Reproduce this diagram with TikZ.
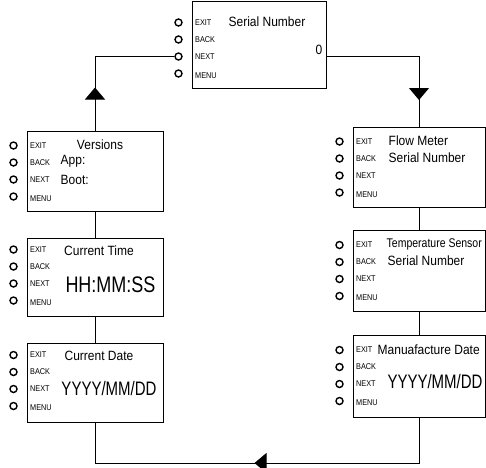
\documentclass[tikz,border=0pt]{standalone}
\usepackage{fontspec}
\setmainfont{Liberation Sans}
\usetikzlibrary{arrows.meta, positioning, calc, decorations.markings}
\tikzset{
    screen/.style={draw=black, line width=1pt, minimum width=136pt, minimum height=80pt, inner sep=0pt},
    key/.style={circle, draw=black, line width=1.4pt, minimum size=7pt, inner sep=0pt},
    keylbl/.style={anchor=west, inner sep=0pt, font=\fontsize{7.3}{8}\selectfont},
    title/.style={inner sep=0pt, font=\fontsize{12}{14}\selectfont},
    reading/.style={inner sep=0pt, font=\fontsize{15}{18}\selectfont},
    link/.style={line width=1pt},
    tipat/.style={link, postaction={decorate}, decoration={markings, mark=at position #1 with {\arrow{Triangle[width=20pt, length=12pt]}}}}
}
% taller letters, as on the display
\newcommand{\tallt}[2][1.12]{\scalebox{1}[#1]{#2}}
% four buttons with their labels, left of a screen
\newcommand{\keypad}[2]{%
  \foreach \k [count=\i from 0] in {EXIT,BACK,NEXT,MENU} {
    \node[key] (#1-\i) at ($(#1.north west)+(-13,{#2+17*\i})$) {};
    \node[keylbl] at ($(#1.north west)+(3.5,{#2+17*\i+2*(\i==3)})$) {\tallt[1.15]{\k}};
  }}

\begin{document}
\begin{tikzpicture}[x=1pt, y=-1pt]
\useasboundingbox (0,0) rectangle (486,467);
\clip (0,0) rectangle (486,467);

% Screens
\node[screen, minimum width=134pt, minimum height=87pt] (sn) at (259,44.5) {};
\node[screen] (ver) at (95,171) {};
\node[screen, minimum height=78pt] (ct) at (95,277) {};
\node[screen, minimum height=79pt] (cd) at (95,382.5) {};
\node[screen, minimum width=132pt] (fm) at (419,167) {};
\node[screen, minimum width=132pt, minimum height=81pt] (ts) at (419,270.5) {};
\node[screen, minimum width=132pt, minimum height=82pt] (md) at (419,376) {};

% Buttons
\keypad{sn}{22}
\keypad{ver}{15}
\keypad{ct}{12}
\keypad{cd}{12.5}
\keypad{fm}{15}
\keypad{ts}{15.5}
\keypad{md}{15.5}

% Screen texts
\node[title] at ($(sn.north)+(8,21)$) {\tallt{Serial Number}};
\node[title, anchor=east] at ($(sn.east)+(-4,5.5)$) {\tallt{0}};
\node[title] at ($(ver.north)+(5,14)$) {\tallt{Versions}};
\node[title, anchor=west] at ($(ver.north west)+(34,31)$) {\tallt{App:}};
\node[title, anchor=west] at ($(ver.north west)+(34,49)$) {\tallt{Boot:}};
\node[title] at ($(ct.north)+(4,13)$) {\tallt{Current Time}};
\node[reading, font=\fontsize{18}{21}\selectfont] at ($(ct.north)+(15.5,47)$) {\tallt[1.25]{HH:MM:SS}};
\node[title] at ($(cd.north)+(4,13.5)$) {\tallt{Current Date}};
\node[reading] at ($(cd.north)+(14,46.5)$) {\tallt[1.3]{YYYY/MM/DD}};
\node[title, anchor=west] at ($(fm.north west)+(36,14)$) {\tallt{Flow Meter}};
\node[title, anchor=west] at ($(fm.north west)+(36,31)$) {\tallt{Serial Number}};
\node[title, anchor=west, font=\fontsize{10.5}{12}\selectfont] at ($(ts.north west)+(34,14.5)$) {\tallt[1.2]{Temperature Sensor}};
\node[title, anchor=west] at ($(ts.north west)+(35,31.5)$) {\tallt{Serial Number}};
\node[title, anchor=west] at ($(md.north west)+(25,15)$) {\tallt{Manuafacture Date}};
\node[reading] at ($(md.north)+(16,47)$) {\tallt[1.3]{YYYY/MM/DD}};

% Lines between screens
\coordinate (bot) at (0,463);
\draw[link] (ver.south) -- (ct.north);
\draw[link] (ct.south) -- (cd.north);
\draw[link] (fm.south) -- (ts.north);
\draw[link] (ts.south) -- (md.north);
\draw[tipat=43pt] (ver.north) |- (sn-2.west);
\draw[tipat=136pt] (sn.east |- sn-2) -| (fm.north);
\draw[tipat=210pt] (md.south) |- (bot -| cd.south) -- (cd.south);
\end{tikzpicture}
\end{document}
